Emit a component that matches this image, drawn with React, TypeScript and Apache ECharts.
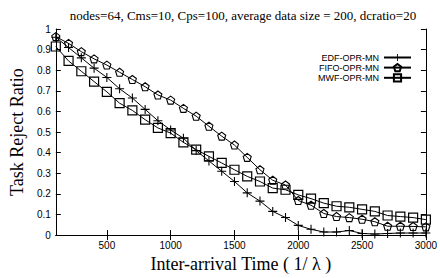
import React, { useEffect, useRef } from "react";
import * as echarts from "echarts";

const xValues = [100, 200, 300, 400, 500, 600, 700, 800, 900, 1000, 1100, 1200, 1300, 1400, 1500, 1600, 1700, 1800, 1900, 2000, 2100, 2200, 2300, 2400, 2500, 2600, 2700, 2800, 2900, 3000];
const edf = [0.96, 0.91, 0.86, 0.81, 0.765, 0.71, 0.665, 0.61, 0.555, 0.51, 0.47, 0.41, 0.36, 0.31, 0.26, 0.205, 0.165, 0.115, 0.085, 0.047, 0.028, 0.015, 0.015, 0.022, 0.008, 0.005, 0.008, 0.01, 0.01, 0.01];
const fifo = [0.963, 0.93, 0.89, 0.855, 0.825, 0.79, 0.755, 0.72, 0.68, 0.655, 0.615, 0.577, 0.528, 0.48, 0.437, 0.377, 0.317, 0.266, 0.243, 0.168, 0.145, 0.105, 0.09, 0.085, 0.077, 0.065, 0.043, 0.043, 0.042, 0.04];
const mwf = [0.915, 0.845, 0.795, 0.745, 0.695, 0.64, 0.605, 0.56, 0.52, 0.495, 0.45, 0.415, 0.382, 0.35, 0.317, 0.285, 0.26, 0.228, 0.22, 0.195, 0.177, 0.155, 0.14, 0.135, 0.125, 0.115, 0.095, 0.09, 0.085, 0.075];
const seriesNames = ["EDF-OPR-MN", "FIFO-OPR-MN", "MWF-OPR-MN"];
const xTicks = [500, 1000, 1500, 2000, 2500, 3000];
const titleText = "nodes=64, Cms=10, Cps=100, average data size = 200, dcratio=20";

const PLUS = "path://M4.4,0H5.6V4.4H10V5.6H5.6V10H4.4V5.6H0V4.4H4.4Z";
const PENTAGON = "path://M50,0L97.6,34.5L79.4,90.5L20.6,90.5L2.4,34.5Z";

const SERIF = "Liberation Serif";
const SANS = "Liberation Sans";

export default function App() {
  const ref = useRef<HTMLDivElement>(null);
  useEffect(() => {
    if (!ref.current) return;
    const chart = echarts.init(ref.current, null, { renderer: "svg" });
    const pair = (arr: number[]) => xValues.map((x, i) => [x, arr[i]]);
    const lineStyle = { color: "#000", width: 1 };
    const grid = { left: 55, right: 11, top: 29, bottom: 34 };
    chart.setOption({
      animation: false,
      backgroundColor: "#fff",
      grid,
      graphic: [
        {
          type: "text",
          x: 243,
          y: 15,
          style: {
            text: titleText,
            fontFamily: SERIF,
            fontSize: 13,
            fill: "#000",
            align: "center",
            verticalAlign: "middle",
          },
        },
      ],
      legend: {
        orient: "vertical",
        right: 23,
        top: 48,
        align: "right",
        itemWidth: 27,
        itemHeight: 9,
        itemGap: 1,
        textStyle: { fontFamily: SANS, fontSize: 9, color: "#000" },
        data: seriesNames,
      },
      xAxis: [
        {
          type: "value",
          min: 100,
          max: 3000,
          position: "bottom",
          name: "Inter-arrival Time ( 1/ λ )",
          nameLocation: "middle",
          nameGap: 16,
          nameTextStyle: { fontFamily: SERIF, fontSize: 18, color: "#000" },
          axisLine: { show: true, lineStyle: { color: "#000", width: 1 } },
          axisTick: { show: true, inside: true, length: 5, customValues: xTicks, lineStyle: { color: "#000" } },
          axisLabel: {
            show: true,
            customValues: xTicks,
            formatter: (v: number) => String(v),
            fontFamily: SANS,
            fontSize: 10,
            color: "#000",
            margin: 5,
          },
          splitLine: { show: false },
        },
        {
          type: "value",
          min: 100,
          max: 3000,
          position: "top",
          axisLine: { show: true, lineStyle: { color: "#000", width: 1 } },
          axisTick: { show: true, inside: true, length: 5, customValues: xTicks, lineStyle: { color: "#000" } },
          axisLabel: { show: false },
          splitLine: { show: false },
        },
      ],
      yAxis: [
        {
          type: "value",
          min: 0,
          max: 1,
          interval: 0.1,
          position: "left",
          name: "Task Reject Ratio",
          nameLocation: "middle",
          nameGap: 24,
          nameTextStyle: { fontFamily: SERIF, fontSize: 18, color: "#000" },
          axisLine: { show: true, lineStyle: { color: "#000", width: 1 } },
          axisTick: { show: true, inside: true, length: 5, lineStyle: { color: "#000" } },
          axisLabel: { fontFamily: SANS, fontSize: 10, color: "#000", margin: 5 },
          splitLine: { show: false },
        },
        {
          type: "value",
          min: 0,
          max: 1,
          interval: 0.1,
          position: "right",
          axisLine: { show: true, lineStyle: { color: "#000", width: 1 } },
          axisTick: { show: true, inside: true, length: 5, lineStyle: { color: "#000" } },
          axisLabel: { show: false },
          splitLine: { show: false },
        },
      ],
      series: [
        {
          name: seriesNames[0],
          type: "line",
          data: pair(edf),
          symbol: PLUS,
          symbolSize: 9,
          showAllSymbol: true,
          lineStyle,
          itemStyle: { color: "#000", borderWidth: 0 },
        },
        {
          name: seriesNames[1],
          type: "line",
          data: pair(fifo),
          symbol: PENTAGON,
          symbolSize: 8,
          showAllSymbol: true,
          lineStyle,
          itemStyle: { color: "rgba(255,255,255,0)", borderColor: "#000", borderWidth: 1.1 },
        },
        {
          name: seriesNames[2],
          type: "line",
          data: pair(mwf),
          symbol: "rect",
          symbolSize: 9,
          showAllSymbol: true,
          lineStyle,
          itemStyle: { color: "rgba(255,255,255,0)", borderColor: "#000", borderWidth: 1.2 },
        },
      ],
    });
    return () => chart.dispose();
  }, []);
  return <div ref={ref} style={{ width: 440, height: 278, position: "fixed", left: 0, top: 0 }} />;
}
